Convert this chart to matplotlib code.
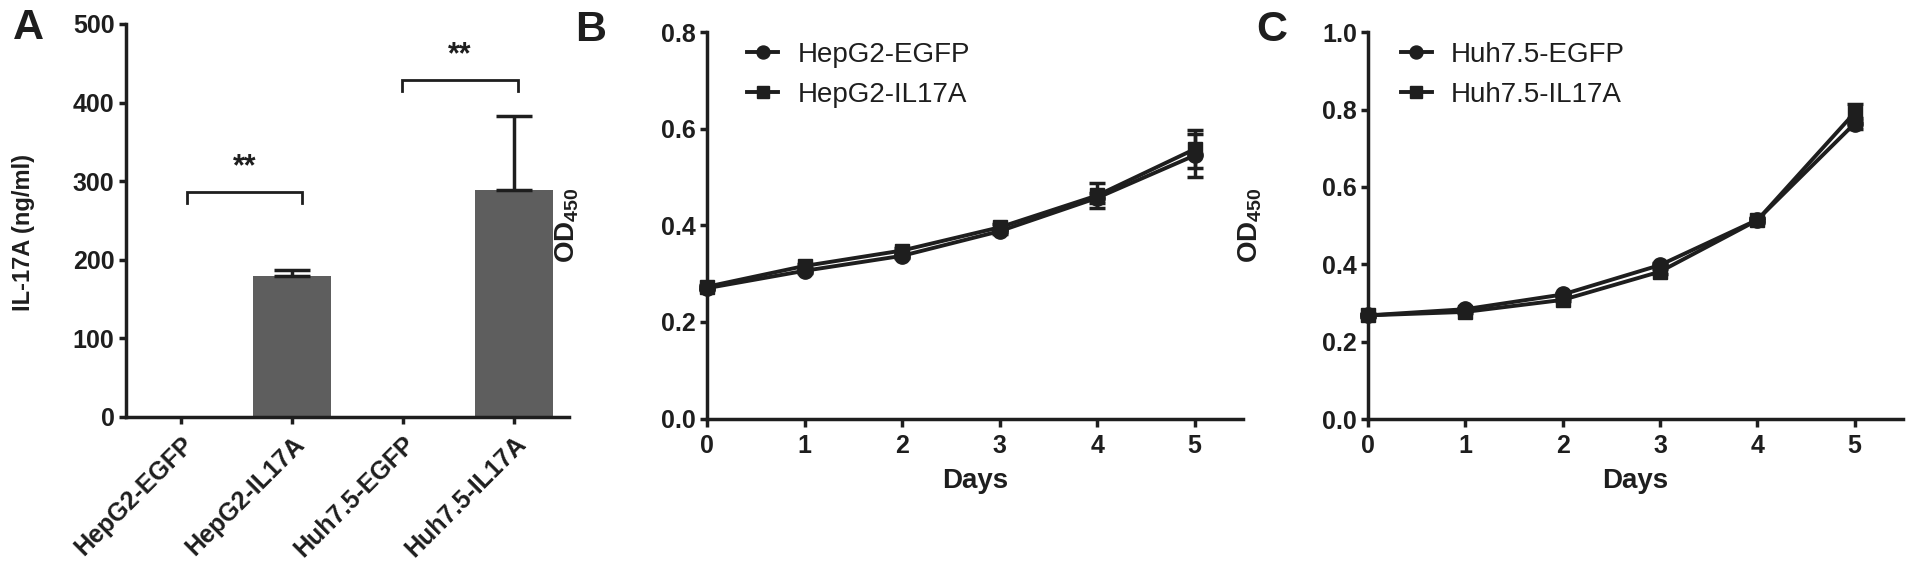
import matplotlib
matplotlib.use("Agg")
import matplotlib.pyplot as plt
import numpy as np

plt.rcParams['font.family'] = ['Liberation Sans', 'DejaVu Sans']
plt.rcParams['mathtext.fontset'] = 'custom'
plt.rcParams['mathtext.rm'] = 'Liberation Sans:bold'
plt.rcParams['mathtext.bf'] = 'Liberation Sans:bold'

INK = '#1e1e1e'

# --- panel A: IL-17A ELISA ---
groups = ['HepG2-EGFP', 'HepG2-IL17A', 'Huh7.5-EGFP', 'Huh7.5-IL17A']
il17a_conc = [0, 179, 0, 289]
il17a_err = [0, 8, 0, 94]
sig_pairs = [(0.05, 1.09), (1.99, 3.04)]
sig_level = [286, 429]
sig_drop = [272, 415]
sig_text = ['**', '**']

# --- panel B/C: CCK-8 growth curves ---
days = [0, 1, 2, 3, 4, 5]
hepg2_egfp = [0.270, 0.306, 0.337, 0.388, 0.457, 0.545]
hepg2_egfp_err = [0.004, 0.004, 0.004, 0.005, 0.010, 0.045]
hepg2_il17a = [0.273, 0.316, 0.348, 0.396, 0.462, 0.558]
hepg2_il17a_err = [0.004, 0.005, 0.005, 0.006, 0.025, 0.040]
huh_egfp = [0.268, 0.284, 0.322, 0.398, 0.515, 0.764]
huh_egfp_err = [0.004, 0.004, 0.004, 0.005, 0.006, 0.015]
huh_il17a = [0.268, 0.277, 0.308, 0.381, 0.514, 0.792]
huh_il17a_err = [0.004, 0.004, 0.004, 0.006, 0.006, 0.022]

LW = 2.5


def style_axes(ax):
    for s in ['top', 'right']:
        ax.spines[s].set_visible(False)
    for s in ['left', 'bottom']:
        ax.spines[s].set_linewidth(LW)
        ax.spines[s].set_color(INK)
    ax.tick_params(direction='out', length=5, width=LW, color=INK,
                   labelsize=18, labelcolor=INK, pad=3)
    for lab in ax.get_xticklabels() + ax.get_yticklabels():
        lab.set_fontweight('bold')


fig = plt.figure(figsize=(19.13, 5.66), dpi=100)

# ---------------- A ----------------
axA = fig.add_axes([0.0657, 0.2641, 0.2319, 0.6935])
x = np.arange(len(groups))
conc = np.array(il17a_conc, dtype=float)
err = np.array(il17a_err, dtype=float)
axA.bar(x, conc, width=0.7, color='#5e5e5e', zorder=2)
m = err > 0
axA.errorbar(x[m], conc[m], yerr=[np.zeros(m.sum()), err[m]], fmt='none',
             ecolor=INK, elinewidth=LW, capsize=13, capthick=LW, zorder=3)
for (x0, x1), yl, yd, t in zip(sig_pairs, sig_level, sig_drop, sig_text):
    axA.plot([x0, x0, x1, x1], [yd, yl, yl, yd], color=INK, lw=2.0,
             solid_joinstyle='miter', zorder=3)
    axA.text((x0 + x1) / 2, yl + 12, t, ha='center', va='bottom',
             fontsize=22, fontweight='bold', color=INK)
axA.set_xlim(-0.5, 3.5)
axA.set_ylim(0, 500)
axA.set_yticks([0, 100, 200, 300, 400, 500])
axA.set_xticks(x)
axA.set_xticklabels(groups, rotation=45, ha='right', rotation_mode='anchor')
style_axes(axA)
axA.tick_params(axis='x', pad=6)
axA.set_ylabel('IL-17A (ng/ml)', fontsize=17, fontweight='bold', color=INK)
axA.yaxis.set_label_coords(-0.205, 0.47)
fig.text(0.0146, 0.95, 'A', fontsize=31, fontweight='bold', color=INK,
         ha='center', va='center')


def growth_panel(rect, s1, e1, n1, s2, e2, n2, ymax, yticks, leg_x, label_x,
                 panel, panel_x):
    ax = fig.add_axes(rect)
    ax.errorbar(days, s1, yerr=e1, color=INK, lw=LW + 0.3, marker='o', ms=11,
                mec=INK, mfc=INK, elinewidth=LW, capsize=6, capthick=LW,
                label=n1, clip_on=False, zorder=3)
    ax.errorbar(days, s2, yerr=e2, color=INK, lw=LW + 0.3, marker='s', ms=10.5,
                mec=INK, mfc=INK, elinewidth=LW, capsize=6, capthick=LW,
                label=n2, clip_on=False, zorder=3)
    ax.set_xlim(0, 5.5)
    ax.set_ylim(0, ymax)
    ax.set_xticks(days)
    ax.set_yticks(yticks)
    ax.set_yticklabels([f'{v:.1f}' for v in yticks])
    style_axes(ax)
    ax.tick_params(axis='x', length=6, pad=5)
    ax.set_xlabel('Days', fontsize=20, fontweight='bold', color=INK, labelpad=7)
    ax.set_ylabel(r'OD$_{\mathrm{450}}$', fontsize=20, fontweight='bold', color=INK)
    ax.yaxis.set_label_coords(label_x, 0.5)
    handles, labels = ax.get_legend_handles_labels()
    handles = [h[0] for h in handles]
    leg = ax.legend(handles, labels, loc='upper left', bbox_to_anchor=(leg_x, 0.975),
                    frameon=False, fontsize=20, handlelength=1.1, handletextpad=0.7,
                    labelspacing=0.5, borderpad=0, borderaxespad=0, markerscale=0.85)
    for t in leg.get_texts():
        t.set_color(INK)
    fig.text(panel_x, 0.947, panel, fontsize=31, fontweight='bold', color=INK,
             ha='center', va='center')
    return ax


growth_panel([0.3696, 0.2606, 0.2804, 0.6823],
             hepg2_egfp, hepg2_egfp_err, 'HepG2-EGFP',
             hepg2_il17a, hepg2_il17a_err, 'HepG2-IL17A',
             0.8, [0.0, 0.2, 0.4, 0.6, 0.8], 0.075, -0.235, 'B', 0.3085)

growth_panel([0.7151, 0.2597, 0.2798, 0.6832],
             huh_egfp, huh_egfp_err, 'Huh7.5-EGFP',
             huh_il17a, huh_il17a_err, 'Huh7.5-IL17A',
             1.0, [0.0, 0.2, 0.4, 0.6, 0.8, 1.0], 0.062, -0.195, 'C', 0.665)

fig.savefig('out.png', dpi=100)
